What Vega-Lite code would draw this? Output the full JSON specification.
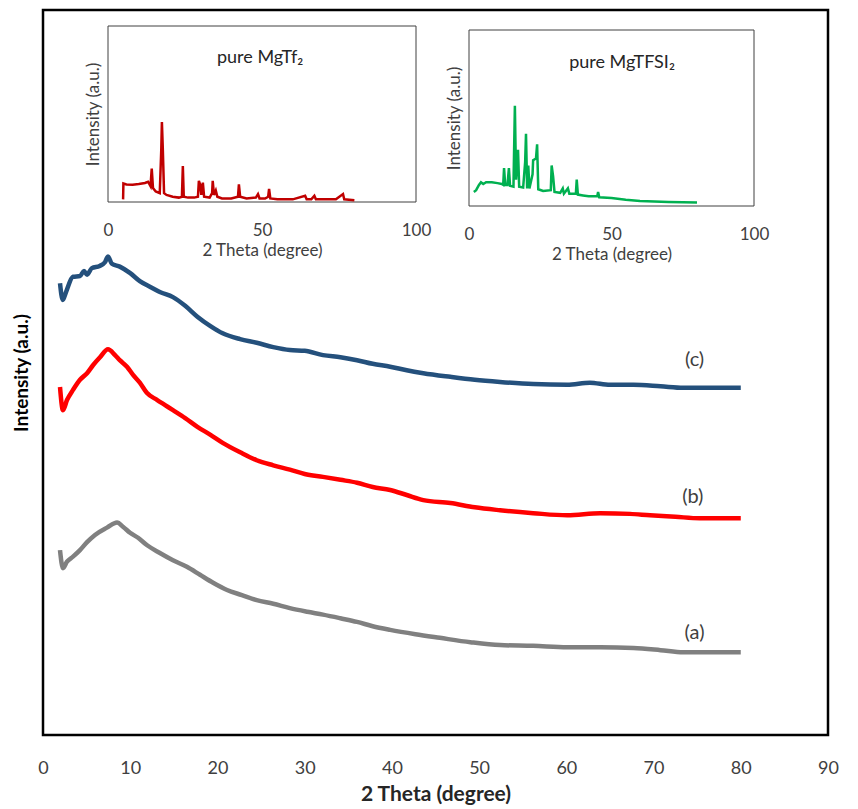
{
  "$schema": "https://vega.github.io/schema/vega-lite/v6.json",
  "width": 785,
  "height": 725,
  "autosize": "none",
  "padding": {"left": 43, "top": 10, "right": 30, "bottom": 74},
  "background": "white",
  "config": {
    "view": {"stroke": "#000000", "strokeWidth": 2.5},
    "font": "Lato",
    "axis": {"grid": false, "ticks": false, "domain": false, "labelFlush": false, "labelFont": "Lato", "titleFont": "Lato", "labelColor": "#404040", "titleColor": "#404040"}
  },
  "datasets": {
    "main": [
      {"s": "c", "x": 1.95, "y": 62.3}, {"s": "c", "x": 2.26, "y": 60.0}, {"s": "c", "x": 2.64, "y": 61.1}, {"s": "c", "x": 3.44, "y": 63.2}, {"s": "c", "x": 4.24, "y": 63.3}, {"s": "c", "x": 4.7, "y": 64.0}, {"s": "c", "x": 5.05, "y": 63.5}, {"s": "c", "x": 5.6, "y": 64.4}, {"s": "c", "x": 6.5, "y": 64.7}, {"s": "c", "x": 7.1, "y": 65.2}, {"s": "c", "x": 7.45, "y": 66.0}, {"s": "c", "x": 7.9, "y": 65.0}, {"s": "c", "x": 8.8, "y": 64.6}, {"s": "c", "x": 10.0, "y": 63.7}, {"s": "c", "x": 11.1, "y": 62.6}, {"s": "c", "x": 12.3, "y": 61.8}, {"s": "c", "x": 13.4, "y": 61.1}, {"s": "c", "x": 14.9, "y": 60.4}, {"s": "c", "x": 16.3, "y": 59.2}, {"s": "c", "x": 17.7, "y": 57.7}, {"s": "c", "x": 19.2, "y": 56.4}, {"s": "c", "x": 20.6, "y": 55.4}, {"s": "c", "x": 22.6, "y": 54.6}, {"s": "c", "x": 24.5, "y": 54.1}, {"s": "c", "x": 26.4, "y": 53.5}, {"s": "c", "x": 28.3, "y": 53.1}, {"s": "c", "x": 30.0, "y": 53.0}, {"s": "c", "x": 32.1, "y": 52.4}, {"s": "c", "x": 34.1, "y": 52.1}, {"s": "c", "x": 36.0, "y": 51.7}, {"s": "c", "x": 37.8, "y": 51.2}, {"s": "c", "x": 39.8, "y": 50.8}, {"s": "c", "x": 41.7, "y": 50.3}, {"s": "c", "x": 43.6, "y": 49.9}, {"s": "c", "x": 46.7, "y": 49.4}, {"s": "c", "x": 49.5, "y": 49.0}, {"s": "c", "x": 52.4, "y": 48.7}, {"s": "c", "x": 56.2, "y": 48.4}, {"s": "c", "x": 60.1, "y": 48.3}, {"s": "c", "x": 62.7, "y": 48.6}, {"s": "c", "x": 65.0, "y": 48.3}, {"s": "c", "x": 67.7, "y": 48.3}, {"s": "c", "x": 70.8, "y": 48.1}, {"s": "c", "x": 73.4, "y": 47.9}, {"s": "c", "x": 76.5, "y": 47.9}, {"s": "c", "x": 80.0, "y": 47.9},
      {"s": "b", "x": 1.95, "y": 48.0}, {"s": "b", "x": 2.29, "y": 44.8}, {"s": "b", "x": 2.75, "y": 46.2}, {"s": "b", "x": 3.44, "y": 47.6}, {"s": "b", "x": 4.24, "y": 49.0}, {"s": "b", "x": 5.05, "y": 49.9}, {"s": "b", "x": 5.73, "y": 51.0}, {"s": "b", "x": 6.54, "y": 52.1}, {"s": "b", "x": 7.45, "y": 53.2}, {"s": "b", "x": 8.26, "y": 52.4}, {"s": "b", "x": 8.8, "y": 51.7}, {"s": "b", "x": 9.63, "y": 50.8}, {"s": "b", "x": 10.3, "y": 49.7}, {"s": "b", "x": 11.1, "y": 48.6}, {"s": "b", "x": 11.9, "y": 47.2}, {"s": "b", "x": 13.1, "y": 46.2}, {"s": "b", "x": 14.0, "y": 45.5}, {"s": "b", "x": 14.9, "y": 44.8}, {"s": "b", "x": 16.3, "y": 43.7}, {"s": "b", "x": 17.7, "y": 42.5}, {"s": "b", "x": 19.2, "y": 41.4}, {"s": "b", "x": 20.6, "y": 40.3}, {"s": "b", "x": 22.6, "y": 39.0}, {"s": "b", "x": 24.5, "y": 37.9}, {"s": "b", "x": 26.4, "y": 37.2}, {"s": "b", "x": 28.3, "y": 36.6}, {"s": "b", "x": 30.0, "y": 36.0}, {"s": "b", "x": 32.1, "y": 35.6}, {"s": "b", "x": 34.1, "y": 35.2}, {"s": "b", "x": 36.0, "y": 34.8}, {"s": "b", "x": 37.8, "y": 34.2}, {"s": "b", "x": 39.8, "y": 33.8}, {"s": "b", "x": 41.7, "y": 33.1}, {"s": "b", "x": 43.6, "y": 32.4}, {"s": "b", "x": 46.7, "y": 32.0}, {"s": "b", "x": 49.5, "y": 31.4}, {"s": "b", "x": 52.4, "y": 31.0}, {"s": "b", "x": 56.2, "y": 30.6}, {"s": "b", "x": 60.1, "y": 30.3}, {"s": "b", "x": 63.9, "y": 30.6}, {"s": "b", "x": 67.3, "y": 30.5}, {"s": "b", "x": 69.6, "y": 30.3}, {"s": "b", "x": 72.5, "y": 30.1}, {"s": "b", "x": 75.3, "y": 29.9}, {"s": "b", "x": 80.0, "y": 29.9},
      {"s": "a", "x": 1.95, "y": 25.5}, {"s": "a", "x": 2.29, "y": 23.0}, {"s": "a", "x": 2.75, "y": 23.9}, {"s": "a", "x": 3.44, "y": 24.6}, {"s": "a", "x": 4.24, "y": 25.5}, {"s": "a", "x": 5.05, "y": 26.6}, {"s": "a", "x": 5.96, "y": 27.6}, {"s": "a", "x": 7.34, "y": 28.6}, {"s": "a", "x": 8.49, "y": 29.3}, {"s": "a", "x": 9.2, "y": 28.7}, {"s": "a", "x": 9.98, "y": 27.9}, {"s": "a", "x": 10.9, "y": 27.2}, {"s": "a", "x": 11.9, "y": 26.2}, {"s": "a", "x": 13.4, "y": 25.1}, {"s": "a", "x": 14.9, "y": 24.1}, {"s": "a", "x": 16.5, "y": 23.2}, {"s": "a", "x": 18.0, "y": 22.1}, {"s": "a", "x": 19.5, "y": 21.0}, {"s": "a", "x": 21.1, "y": 20.0}, {"s": "a", "x": 22.8, "y": 19.3}, {"s": "a", "x": 24.5, "y": 18.6}, {"s": "a", "x": 26.4, "y": 18.1}, {"s": "a", "x": 28.3, "y": 17.5}, {"s": "a", "x": 30.3, "y": 17.0}, {"s": "a", "x": 32.1, "y": 16.6}, {"s": "a", "x": 34.1, "y": 16.1}, {"s": "a", "x": 36.0, "y": 15.6}, {"s": "a", "x": 37.8, "y": 15.0}, {"s": "a", "x": 39.8, "y": 14.5}, {"s": "a", "x": 42.7, "y": 13.9}, {"s": "a", "x": 45.5, "y": 13.4}, {"s": "a", "x": 49.0, "y": 12.8}, {"s": "a", "x": 52.4, "y": 12.4}, {"s": "a", "x": 56.2, "y": 12.3}, {"s": "a", "x": 60.1, "y": 12.1}, {"s": "a", "x": 63.9, "y": 12.1}, {"s": "a", "x": 67.7, "y": 12.0}, {"s": "a", "x": 70.8, "y": 11.7}, {"s": "a", "x": 73.4, "y": 11.4}, {"s": "a", "x": 80.0, "y": 11.4}
    ],
    "tf": [
      {"x": 4.9, "y": 1.5}, {"x": 5.0, "y": 10.5}, {"x": 6, "y": 10}, {"x": 8, "y": 9.8}, {"x": 10, "y": 10.2}, {"x": 12, "y": 10.8}, {"x": 13, "y": 11.5}, {"x": 13.8, "y": 9}, {"x": 14.2, "y": 19}, {"x": 14.6, "y": 8}, {"x": 15.5, "y": 6}, {"x": 16.8, "y": 5}, {"x": 17.3, "y": 30}, {"x": 17.5, "y": 45.5}, {"x": 17.8, "y": 30}, {"x": 18.2, "y": 5}, {"x": 19, "y": 4}, {"x": 21, "y": 3}, {"x": 23, "y": 2.5}, {"x": 24, "y": 3}, {"x": 24.3, "y": 20.5}, {"x": 24.6, "y": 3}, {"x": 26, "y": 2.5}, {"x": 28, "y": 2.5}, {"x": 29.2, "y": 3}, {"x": 29.5, "y": 12}, {"x": 29.9, "y": 10}, {"x": 30.3, "y": 4}, {"x": 30.8, "y": 11}, {"x": 31.2, "y": 3}, {"x": 33, "y": 2.5}, {"x": 33.8, "y": 5}, {"x": 34, "y": 12}, {"x": 34.4, "y": 4}, {"x": 35, "y": 6.5}, {"x": 35.5, "y": 3}, {"x": 37, "y": 2}, {"x": 40, "y": 2}, {"x": 42.2, "y": 3}, {"x": 42.5, "y": 10}, {"x": 42.9, "y": 3}, {"x": 45, "y": 2}, {"x": 48, "y": 2.5}, {"x": 48.7, "y": 4.5}, {"x": 49.2, "y": 2}, {"x": 51, "y": 2}, {"x": 52, "y": 3}, {"x": 52.3, "y": 7.5}, {"x": 52.7, "y": 2}, {"x": 55, "y": 1.5}, {"x": 60, "y": 1.5}, {"x": 64, "y": 3.5}, {"x": 64.5, "y": 1.5}, {"x": 66, "y": 1.5}, {"x": 67, "y": 3.5}, {"x": 67.5, "y": 1.5}, {"x": 70, "y": 1.5}, {"x": 74, "y": 1.5}, {"x": 76.3, "y": 4.5}, {"x": 76.7, "y": 1.5}, {"x": 80, "y": 1}
    ],
    "tfsi": [
      {"x": 1.7, "y": 8}, {"x": 2.5, "y": 9}, {"x": 3.5, "y": 12}, {"x": 4.2, "y": 13.5}, {"x": 5, "y": 12.5}, {"x": 6, "y": 13.5}, {"x": 8, "y": 13.5}, {"x": 10, "y": 13}, {"x": 11.5, "y": 12.5}, {"x": 12, "y": 12}, {"x": 12.3, "y": 21.5}, {"x": 12.7, "y": 12}, {"x": 13.5, "y": 12}, {"x": 14, "y": 21.5}, {"x": 14.4, "y": 11.5}, {"x": 15.6, "y": 11}, {"x": 16.1, "y": 57}, {"x": 16.5, "y": 15}, {"x": 17.2, "y": 32}, {"x": 17.6, "y": 11}, {"x": 19, "y": 10.5}, {"x": 19.7, "y": 25}, {"x": 20, "y": 41}, {"x": 20.4, "y": 10}, {"x": 20.8, "y": 23}, {"x": 21.2, "y": 10}, {"x": 22.3, "y": 18}, {"x": 22.5, "y": 26}, {"x": 23.5, "y": 27}, {"x": 23.9, "y": 35}, {"x": 24.3, "y": 9.5}, {"x": 26, "y": 8.5}, {"x": 28.7, "y": 9}, {"x": 29, "y": 23}, {"x": 29.5, "y": 17}, {"x": 30, "y": 8}, {"x": 32, "y": 7.5}, {"x": 32.9, "y": 10}, {"x": 33.3, "y": 7}, {"x": 34.7, "y": 10}, {"x": 35.2, "y": 7}, {"x": 37.5, "y": 7}, {"x": 37.8, "y": 15}, {"x": 38.2, "y": 6.5}, {"x": 40, "y": 6}, {"x": 42, "y": 5.5}, {"x": 45, "y": 5.5}, {"x": 45.3, "y": 8}, {"x": 45.7, "y": 5}, {"x": 50, "y": 4.5}, {"x": 55, "y": 3.5}, {"x": 60, "y": 2.8}, {"x": 65, "y": 2.5}, {"x": 70, "y": 2.3}, {"x": 75, "y": 2.2}, {"x": 80, "y": 2}
    ]
  },
  "layer": [
    {
      "layer": [
        {
          "data": {"name": "main"},
          "mark": {"type": "line", "strokeWidth": 4.5, "strokeJoin": "round", "interpolate": "monotone"},
          "encoding": {
            "x": {"field": "x", "type": "quantitative",
              "scale": {"domain": [0, 90], "nice": false, "zero": false},
              "axis": {"orient": "bottom", "values": [0, 10, 20, 30, 40, 50, 60, 70, 80, 90], "labelFontSize": 18, "labelPadding": 24, "title": "2 Theta (degree)", "titleFontSize": 21, "titleFontWeight": "bold", "titleColor": "#262626", "titlePadding": 6}},
            "y": {"field": "y", "type": "quantitative",
              "scale": {"domain": [0, 100], "nice": false, "zero": false},
              "axis": {"orient": "left", "labels": false, "title": "Intensity (a.u.)", "titleFontSize": 19, "titleFontWeight": "bold", "titleColor": "#000000", "titlePadding": 12}},
            "color": {"field": "s", "type": "nominal", "legend": null,
              "scale": {"domain": ["a", "b", "c"], "range": ["#808080", "#FF0000", "#24507C"]}}
          }
        },
        {"data": {"values": [{}]}, "mark": {"type": "text", "text": "(c)", "fontSize": 20, "color": "#404040", "font": "Lato"}, "encoding": {"x": {"datum": 74.7}, "y": {"datum": 51.7}}},
        {"data": {"values": [{}]}, "mark": {"type": "text", "text": "(b)", "fontSize": 20, "color": "#404040", "font": "Lato"}, "encoding": {"x": {"datum": 74.5}, "y": {"datum": 32.8}}},
        {"data": {"values": [{}]}, "mark": {"type": "text", "text": "(a)", "fontSize": 20, "color": "#404040", "font": "Lato"}, "encoding": {"x": {"datum": 74.7}, "y": {"datum": 14.1}}}
      ]
    },
    {
      "layer": [
        {
          "data": {"values": [{}]},
          "mark": {"type": "rect", "fill": null, "stroke": "#404040", "strokeWidth": 1},
          "encoding": {"x": {"datum": 0}, "x2": {"datum": 100}, "y": {"datum": 0}, "y2": {"datum": 100}}
        },
        {
          "data": {"name": "tf"},
          "mark": {"type": "line", "strokeWidth": 2.5, "color": "#C00000"},
          "encoding": {
            "x": {"field": "x", "type": "quantitative",
              "scale": {"domain": [0, 100], "range": [65, 373], "nice": false, "zero": false},
              "axis": {"orient": "bottom", "offset": -533, "values": [0, 50, 100], "labelFontSize": 17, "labelPadding": 20, "title": "2 Theta (degree)", "titleFontSize": 17, "titleFontWeight": "normal", "titlePadding": 4}},
            "y": {"field": "y", "type": "quantitative",
              "scale": {"domain": [0, 100], "range": [192, 16], "nice": false, "zero": false},
              "axis": {"orient": "left", "offset": -65, "labels": false, "title": "Intensity (a.u.)", "titleFontSize": 17, "titleFontWeight": "normal", "titlePadding": 6}}
          }
        },
        {"data": {"values": [{}]}, "mark": {"type": "text", "text": "pure MgTf₂", "fontSize": 18, "color": "#262626", "font": "Lato"}, "encoding": {"x": {"datum": 49.4}, "y": {"datum": 81.8}}}
      ]
    },
    {
      "layer": [
        {
          "data": {"values": [{}]},
          "mark": {"type": "rect", "fill": null, "stroke": "#404040", "strokeWidth": 1},
          "encoding": {"x": {"datum": 0}, "x2": {"datum": 100}, "y": {"datum": 0}, "y2": {"datum": 100}}
        },
        {
          "data": {"name": "tfsi"},
          "mark": {"type": "line", "strokeWidth": 2.5, "color": "#00B050"},
          "encoding": {
            "x": {"field": "x", "type": "quantitative",
              "scale": {"domain": [0, 100], "range": [426, 711], "nice": false, "zero": false},
              "axis": {"orient": "bottom", "offset": -529, "values": [0, 50, 100], "labelFontSize": 17, "labelPadding": 20, "title": "2 Theta (degree)", "titleFontSize": 17, "titleFontWeight": "normal", "titlePadding": 4}},
            "y": {"field": "y", "type": "quantitative",
              "scale": {"domain": [0, 100], "range": [196, 20], "nice": false, "zero": false},
              "axis": {"orient": "left", "offset": -426, "labels": false, "title": "Intensity (a.u.)", "titleFontSize": 17, "titleFontWeight": "normal", "titlePadding": 6}}
          }
        },
        {"data": {"values": [{}]}, "mark": {"type": "text", "text": "pure MgTFSI₂", "fontSize": 18, "color": "#262626", "font": "Lato"}, "encoding": {"x": {"datum": 53.7}, "y": {"datum": 81.3}}}
      ]
    }
  ],
  "resolve": {"scale": {"x": "independent", "y": "independent"}, "axis": {"x": "independent", "y": "independent"}}
}
